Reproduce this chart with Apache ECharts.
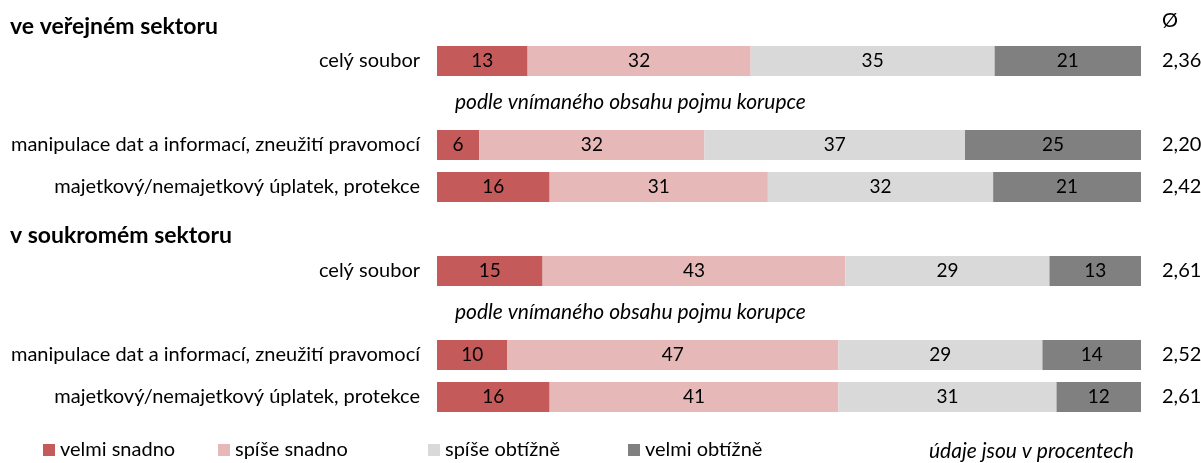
<!DOCTYPE html>
<html>
<head>
<meta charset="utf-8">
<script src="https://cdn.jsdelivr.net/npm/echarts@6/dist/echarts.min.js"></script>
<style>
	html, body { margin: 0; padding: 0; background: #fff; }
	#chart { width: 1201px; height: 463px; }
</style>
</head>
<body>
<div id="chart"></div>
<script>
// řádky grafu (prázdné řetězce = mezery pro nadpisy a podtitulky)
var categories = ["celý soubor", "", "manipulace dat a informací, zneužití pravomocí",
	"majetkový/nemajetkový úplatek, protekce", "", "celý soubor", "",
	"manipulace dat a informací, zneužití pravomocí",
	"majetkový/nemajetkový úplatek, protekce"];
var averages = ["2,36", "", "2,20", "2,42", "", "2,61", "", "2,52", "2,61"];
var seriesNames = ["velmi snadno", "spíše snadno", "spíše obtížně", "velmi obtížně"];
var velmiSnadno = [13, null, 6, 16, null, 15, null, 10, 16];
var spiseSnadno = [32, null, 32, 31, null, 43, null, 47, 41];
var spiseObtizne = [35, null, 37, 32, null, 29, null, 29, 31];
var velmiObtizne = [21, null, 25, 21, null, 13, null, 14, 12];
var colors = ["#c55a5a", "#e6b8b8", "#d9d9d9", "#808080"];

var values = [velmiSnadno, spiseSnadno, spiseObtizne, velmiObtizne];
// součty řádků - pruhy jsou 100% skládané
var totals = categories.map((c, i) =>
	values.reduce((s, arr) => s + (arr[i] || 0), 0));

var font = "Lato, 'Open Sans', sans-serif";
// levé okraje jednotlivých položek legendy
var legendLeft = [43, 218, 428, 628];

var chart = echarts.init(document.getElementById("chart"));
chart.setOption({
	animation: false,
	textStyle: { fontFamily: font },
	grid: { left: 437, right: 60, top: 40, height: 378, outerBoundsMode: "none" },
	xAxis: { type: "value", min: 0, max: 100, show: false },
	yAxis: [{
		type: "category",
		inverse: true,
		data: categories,
		axisLine: { show: false },
		axisTick: { show: false },
		axisLabel: { margin: 17, fontSize: 20, color: "#000", fontFamily: font }
	}, {
		type: "category",
		inverse: true,
		position: "right",
		data: averages,
		axisLine: { show: false },
		axisTick: { show: false },
		axisLabel: { margin: 21, fontSize: 20, color: "#000", fontFamily: font }
	}],
	legend: seriesNames.map((n, k) => ({
		left: legendLeft[k],
		top: 440,
		padding: 0,
		itemWidth: 12,
		itemHeight: 12,
		icon: "rect",
		data: [n],
		textStyle: { fontSize: 20, color: "#000" }
	})),
	graphic: [
		{ type: "text", left: 10, top: 15,
		  style: { text: "ve veřejném sektoru", font: "bold 23px " + font, fill: "#000" } },
		{ type: "text", left: 10, top: 224,
		  style: { text: "v soukromém sektoru", font: "bold 23px " + font, fill: "#000" } },
		{ type: "text", left: 1162, top: 11,
		  style: { text: "Ø", font: "20px " + font, fill: "#000" } },
		{ type: "text", left: 455, top: 92,
		  style: { text: "podle vnímaného obsahu pojmu korupce", font: "italic 21px " + font, fill: "#000" } },
		{ type: "text", left: 455, top: 302,
		  style: { text: "podle vnímaného obsahu pojmu korupce", font: "italic 21px " + font, fill: "#000" } },
		{ type: "text", left: 929, top: 441,
		  style: { text: "údaje jsou v procentech", font: "italic 21px " + font, fill: "#000" } }
	],
	series: values.map((arr, k) => ({
		type: "bar",
		name: seriesNames[k],
		stack: "celkem",
		barWidth: 30,
		itemStyle: { color: colors[k] },
		label: {
			show: true,
			position: "inside",
			fontSize: 19,
			color: "#000",
			formatter: p => arr[p.dataIndex] == null ? "" : String(arr[p.dataIndex])
		},
		data: arr.map((v, i) => v == null ? null : v / totals[i] * 100)
	}))
});
</script>
</body>
</html>
